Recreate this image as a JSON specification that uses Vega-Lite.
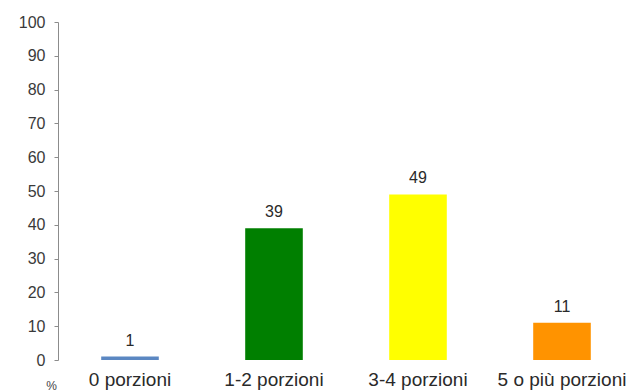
{
  "$schema": "https://vega.github.io/schema/vega-lite/v6.json",
  "autosize": "none",
  "padding": {"left": 58, "top": 22, "right": 0, "bottom": 32},
  "width": 576,
  "height": 338,
  "background": "white",
  "config": {"view": {"stroke": null}, "font": "Liberation Sans"},
  "data": {"values": [
    {"cat": "0 porzioni", "v": 1, "c": "#5b87c2"},
    {"cat": "1-2 porzioni", "v": 39, "c": "#007f00"},
    {"cat": "3-4 porzioni", "v": 49, "c": "#ffff00"},
    {"cat": "5 o più porzioni", "v": 11, "c": "#ff9300"}
  ]},
  "encoding": {
    "x": {"field": "cat", "type": "nominal", "sort": null,
      "scale": {"paddingInner": 0.6, "paddingOuter": 0.3},
      "axis": {"title": null, "domain": false, "ticks": false, "labelAngle": 0,
        "labelFontSize": 19, "labelColor": "#2a2a2a", "labelPadding": 10, "labelOverlap": false}},
    "y": {"field": "v", "type": "quantitative",
      "scale": {"domain": [0, 100]},
      "axis": {"values": [0,10,20,30,40,50,60,70,80,90,100], "grid": false,
        "domainColor": "#8c8c8c", "tickColor": "#8c8c8c", "tickSize": 4,
        "labelFontSize": 16, "labelColor": "#3a3a3a", "labelPadding": 9,
        "title": "%", "titleAngle": 0, "titleFontSize": 12, "titleFontWeight": "normal",
        "titleColor": "#444444", "titleX": -7, "titleY": 367, "titleAlign": "center", "titleBaseline": "alphabetic"}}
  },
  "layer": [
    {"mark": {"type": "bar"},
      "encoding": {"color": {"field": "c", "type": "nominal", "scale": null}}},
    {"mark": {"type": "text", "dy": -11, "baseline": "alphabetic", "fontSize": 16, "color": "#2a2a2a"},
      "encoding": {"text": {"field": "v", "type": "quantitative"}}}
  ]
}
